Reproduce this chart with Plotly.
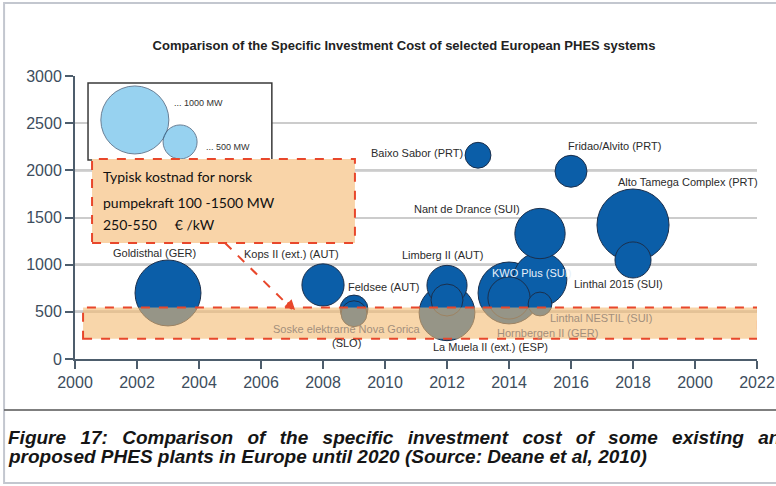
import plotly.graph_objects as go

# bubbles: plant, year, specific cost (EUR/kW), capacity (MW)
plants = [
    "Goldisthal (GER)", "Kops II (ext.) (AUT)", "Feldsee (AUT)",
    "Soske elektrarne Nova Gorica (SLO)", "Limberg II (AUT)",
    "La Muela II (ext.) (ESP)", "", "Baixo Sabor (PRT)", "Fridao/Alvito (PRT)",
    "Nant de Drance (SUI)", "Alto Tamega Complex (PRT)", "",
    "KWO Plus (SUI)", "Hornbergen II (GER)", "Linthal 2015 (SUI)",
    "Linthal NESTIL (SUI)",
]
years = [2003, 2008, 2009, 2009, 2012, 2012, 2012, 2013, 2016, 2015, 2018, 2018, 2014, 2014, 2015, 2015]
costs = [700, 785, 530, 480, 780, 490, 625, 2160, 1990, 1330, 1420, 1050, 700, 647, 845, 583]
capacity_mw = [970, 620, 410, 380, 590, 820, 470, 380, 470, 740, 1060, 530, 910, 620, 790, 350]

# text labels next to the bubbles (n = normal, f = under the band, w = white)
label_text = [
    "Goldisthal (GER)", "Kops II (ext.) (AUT)", "Feldsee (AUT)",
    "Soske elektrarne Nova Gorica", "(SLO)", "Limberg II (AUT)",
    "La Muela II (ext.) (ESP)", "Baixo Sabor (PRT)", "Fridao/Alvito (PRT)",
    "Nant de Drance (SUI)", "Alto Tamega Complex (PRT)", "KWO Plus (SUI)",
    "Linthal 2015 (SUI)", "Linthal NESTIL (SUI)", "Hornbergen II (GER)",
]
label_x = [2002.55, 2006.97, 2009.97, 2008.77, 2008.77, 2011.87, 2013.39, 2011.03, 2017.39,
           2012.65, 2019.77, 2014.74, 2017.52, 2016.97, 2015.23]
label_y = [1124, 1113, 764, 318, 170, 1103, 127, 2185, 2259, 1591, 1877, 912, 795, 435, 276]
label_kind = ["n", "n", "n", "f", "n", "n", "n", "n", "n", "n", "n", "w", "n", "f", "f"]

legend_mw = [1000, 500]
legend_text = ["... 1000 MW", "... 500 MW"]

norsk_lines = ["Typisk kostnad for norsk", "pumpekraft 100 -1500 MW",
               "250-550\u00a0\u00a0\u00a0\u00a0\u00a0€ /kW"]
norsk_range = [215, 545]  # EUR/kW band

x_tick_vals = list(range(2000, 2023, 2))
x_tick_text = ["2000", "2002", "2004", "2006", "2008", "2010", "2012",
               "2014", "2016", "2018", "2000", "2022"]
y_tick_vals = [0, 500, 1000, 1500, 2000, 2500, 3000]
dark_grid = [500, 1000, 2000]

title = "Comparison of the Specific Investment Cost of selected European PHES systems"
caption = [
    "Figure 17: Comparison of the specific investment cost of some existing and",
    "proposed PHES plants in Europe until 2020 (Source: Deane et al, 2010)",
]

PX_PER_MW = 0.068
BLUE = "#0b5ea8"
RED = "#e8472b"
AXIS = "#4d5d6c"
TICKFONT = dict(family="Liberation Sans, Arial, sans-serif", size=16, color="#3d4d5d")
SANS = "Liberation Sans, Arial, sans-serif"

fig = go.Figure()

order = sorted(range(len(plants)), key=lambda i: -capacity_mw[i])
fig.add_trace(go.Scatter(
    x=[years[i] for i in order],
    y=[costs[i] for i in order],
    text=[plants[i] for i in order],
    mode="markers",
    marker=dict(size=[capacity_mw[i] * PX_PER_MW for i in order], sizemode="diameter",
                color=BLUE, opacity=1, line=dict(color="#1b2f4c", width=1)),
    hoverinfo="text+x+y",
    showlegend=False,
))

# size legend
fig.add_trace(go.Scatter(
    x=[2001.93, 2003.39], y=[2534, 2301],
    mode="markers",
    marker=dict(size=[m * PX_PER_MW for m in legend_mw], color="#6cc0ea",
                line=dict(color="#2b4a6a", width=1)),
    hoverinfo="skip", showlegend=False,
))

shapes = []
for lvl in dark_grid:
    shapes.append(dict(type="line", xref="x", yref="y", x0=2000, x1=2022, y0=lvl, y1=lvl,
                       line=dict(color="#5a5a5a", width=2), layer="below"))
# legend frame
shapes.append(dict(type="rect", xref="x", yref="y", x0=2000.42, x1=2006.35, y0=2110, y1=2927,
                   fillcolor="white", line=dict(color="#3a3a3a", width=1.5), layer="between"))
# norwegian note box
shapes.append(dict(type="rect", xref="x", yref="y", x0=2000.55, x1=2009.03, y0=1230, y1=2121,
                   fillcolor="#f9d4a8", line=dict(color=RED, width=2, dash="dash"), layer="above"))
# typical norwegian cost band
shapes.append(dict(type="rect", xref="x", yref="y", x0=2000.26, x1=2022.03,
                   y0=norsk_range[0], y1=norsk_range[1],
                   fillcolor="rgba(243,187,113,0.6)", line=dict(color=RED, width=2, dash="dash"),
                   layer="above"))
shapes.append(dict(type="line", xref="x", yref="y", x0=2004.84, y0=1230, x1=2007.0, y1=530,
                   line=dict(color=RED, width=2, dash="dash"), layer="above"))
# outer frame and caption rule
shapes.append(dict(type="rect", xref="paper", yref="paper", x0=-0.104, x1=1.03, y0=-0.438, y1=1.258,
                   line=dict(color="#c3c7cf", width=2)))
shapes.append(dict(type="line", xref="paper", yref="paper", x0=-0.104, x1=1.03, y0=-0.18, y1=-0.18,
                   line=dict(color="#555555", width=1.5)))

ann = []
for t, x, y, k in zip(label_text, label_x, label_y, label_kind):
    col = {"n": "#2b2b2b", "f": "#a38f7c", "w": "#e8f0f8"}[k]
    ann.append(dict(x=x, y=y, xref="x", yref="y", text=t, showarrow=False,
                    font=dict(family=SANS, size=11, color=col)))
ann.append(dict(x=2003.13, y=2715, xref="x", yref="y", text=legend_text[0], showarrow=False,
                xanchor="left", font=dict(family=SANS, size=9, color="#333333")))
ann.append(dict(x=2004.16, y=2248, xref="x", yref="y", text=legend_text[1], showarrow=False,
                xanchor="left", font=dict(family=SANS, size=9, color="#333333")))
for line, y in zip(norsk_lines, [1930, 1654, 1421]):
    ann.append(dict(x=2000.84, y=y, xref="x", yref="y", text=line, showarrow=False,
                    xanchor="left", font=dict(family="Lato, sans-serif", size=14, color="#111111")))
ann.append(dict(x=2007.1, y=520, xref="x", yref="y", ax=-9, ay=-9, text="", showarrow=True,
                arrowhead=2, arrowsize=1, arrowwidth=2, arrowcolor=RED, standoff=0))
gap = " \u00a0\u2009"
ann.append(dict(x=-0.101, y=-0.276, xref="paper", yref="paper", xanchor="left", yanchor="middle",
                text="<b><i>" + caption[0].replace(" ", gap) + "</i></b>",
                showarrow=False, font=dict(family=SANS, size=19, color="#151515")))
ann.append(dict(x=-0.101, y=-0.345, xref="paper", yref="paper", xanchor="left", yanchor="middle",
                text="<b><i>" + caption[1] + "</i></b>",
                showarrow=False, font=dict(family=SANS, size=19, color="#151515")))

fig.update_layout(
    width=776, height=486,
    margin=dict(l=75, r=19, t=76, b=127),
    paper_bgcolor="white", plot_bgcolor="white",
    title=dict(text="<b>" + title + "</b>", x=404 / 776, y=1 - 45 / 486,
               xref="container", yref="container", xanchor="center", yanchor="middle",
               font=dict(family=SANS, size=13, color="#222222")),
    xaxis=dict(range=[2000, 2022], tickvals=x_tick_vals, ticktext=x_tick_text,
               showgrid=False, zeroline=False, showline=True, linecolor=AXIS, linewidth=2,
               ticks="outside", ticklen=8, tickwidth=2, tickcolor=AXIS, tickfont=TICKFONT,
               automargin=False, ticklabeloverflow="allow"),
    yaxis=dict(range=[0, 3000], tickvals=y_tick_vals, showgrid=True, gridcolor="#cccccc",
               gridwidth=2, zeroline=False, showline=True, linecolor=AXIS, linewidth=2,
               ticks="outside", ticklen=8, tickwidth=2, tickcolor=AXIS, tickfont=TICKFONT,
               automargin=False, ticklabeloverflow="allow"),
    shapes=shapes,
    annotations=ann,
    hovermode="closest",
)

# the page's default body margin would push the figure 8px right and down
fig.write_html("out.html", config={"displayModeBar": False},
               post_script="document.body.style.margin='0';")
